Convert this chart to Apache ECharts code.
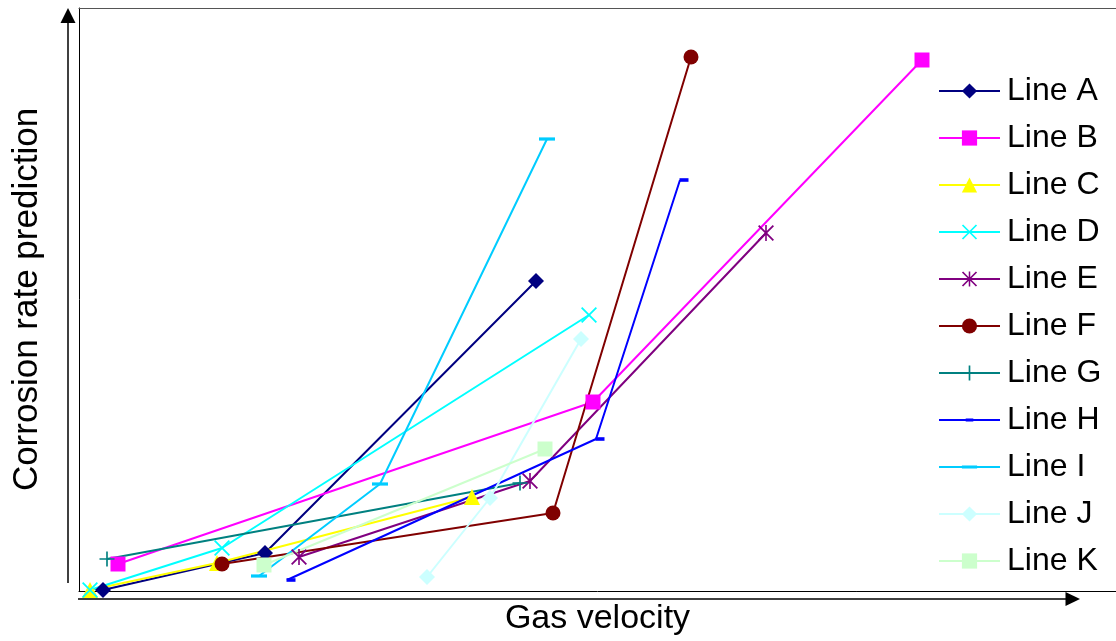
<!DOCTYPE html>
<html>
<head>
<meta charset="utf-8">
<script src="https://cdn.jsdelivr.net/npm/echarts@6/dist/echarts.min.js"></script>
<style>
html,body{margin:0;padding:0;background:#fff;}
#chart{width:1116px;height:641px;}
</style>
</head>
<body>
<div id="chart"></div>
<script>
// Values (x: gas velocity, y: corrosion rate, arbitrary units)
var seriesNames = ['Line A','Line B','Line C','Line D','Line E','Line F','Line G','Line H','Line I','Line J','Line K'];
var lineA = [[24,1],[186,38],[457,310]];
var lineB = [[39,27],[514,189],[843,531]];
var lineC = [[11,1],[138,28],[393,94]];
var lineD = [[11,1],[143,43],[510,276]];
var lineE = [[220,34],[451,110],[687,358]];
var lineF = [[143,27],[474,78],[612,534]];
var lineG = [[28,32],[441,108]];
var lineH = [[208,11],[517,152],[601,411]];
var lineI = [[180,15],[301,107],[468,452]];
var lineJ = [[348,14],[411,93],[502,252]];
var lineK = [[185,26],[466,142]];
var allData = [lineA,lineB,lineC,lineD,lineE,lineF,lineG,lineH,lineI,lineJ,lineK];

var X_PATH = 'path://M0,0.8L0.8,0L10,9.2L9.2,10Z M9.2,0L10,0.8L0.8,10L0,9.2Z';
var STAR_PATH = 'path://M0,0.8L0.8,0L10,9.2L9.2,10Z M9.2,0L10,0.8L0.8,10L0,9.2Z M4.5,0H5.5V10H4.5Z';
var PLUS_PATH = 'path://M4.45,0H5.55V10H4.45Z M0,4.45H10V5.55H0Z';
var H_DASH = 'path://M0,0M5,8H15V12H5ZM20,20';
var I_DASH = 'path://M0,0M0,8H20V12H0ZM20,20';

var styles = [
  {color:'#000080', symbol:'diamond', size:16},
  {color:'#FF00FF', symbol:'rect', size:15},
  {color:'#FFFF00', symbol:'triangle', size:16},
  {color:'#00FFFF', symbol:X_PATH, size:16},
  {color:'#800080', symbol:STAR_PATH, size:16},
  {color:'#800000', symbol:'circle', size:15},
  {color:'#008080', symbol:PLUS_PATH, size:15},
  {color:'#0000FF', symbol:H_DASH, size:18, offset:[4,0]},
  {color:'#00CCFF', symbol:I_DASH, size:16},
  {color:'#CCFFFF', symbol:'diamond', size:16},
  {color:'#CCFFCC', symbol:'rect', size:15}
];

var FONT = "'Liberation Sans', Arial, Helvetica, sans-serif";

var series = seriesNames.map(function(name, i){
  var st = styles[i];
  return {
    name: name,
    type: 'line',
    xAxisIndex: 0,
    yAxisIndex: 0,
    data: allData[i],
    symbol: st.symbol,
    symbolSize: st.size,
    symbolOffset: st.offset || [0,0],
    showAllSymbol: true,
    clip: false,
    animation: false,
    lineStyle: {color: st.color, width: 2},
    itemStyle: {color: st.color, opacity: 1},
    emphasis: {disabled: true}
  };
});

var hidden = {axisTick: {show: false}, axisLabel: {show: false}, splitLine: {show: false}};

var chart = echarts.init(document.getElementById('chart'), null, {renderer:'canvas'});
chart.setOption({
  animation: false,
  backgroundColor: '#ffffff',
  grid: {left: 79, top: 8, right: 0, bottom: 50, show: false},
  xAxis: [
    Object.assign({
      type: 'value', min: 0, max: 1037, position: 'bottom',
      name: 'Gas velocity', nameLocation: 'middle', nameGap: 11,
      nameTextStyle: {fontSize: 34, color: '#000', fontFamily: FONT},
      axisLine: {show: true, onZero: false, lineStyle: {color: '#000', width: 1}}
    }, hidden),
    Object.assign({
      type: 'value', min: 0, max: 1037, position: 'top',
      axisLine: {show: true, onZero: false, lineStyle: {color: '#555', width: 1.2}}
    }, hidden)
  ],
  yAxis: Object.assign({
    type: 'value', min: 0, max: 583,
    name: 'Corrosion rate prediction', nameLocation: 'middle', nameGap: 34,
    nameTextStyle: {fontSize: 35, color: '#000', fontFamily: FONT},
    axisLine: {show: true, onZero: false, lineStyle: {color: '#000', width: 1}}
  }, hidden),
  legend: {
    orient: 'vertical',
    left: 938, top: 75,
    itemWidth: 61, itemHeight: 19, itemGap: 15,
    padding: 0,
    data: seriesNames,
    textStyle: {fontSize: 32, lineHeight: 32, color: '#000', fontFamily: FONT, padding: [0,0,0,2]},
    selectedMode: false
  },
  graphic: [
    {type:'line', silent:true, shape:{x1:68, y1:583, x2:68, y2:20}, style:{stroke:'#000', lineWidth:1.5}},
    {type:'polygon', silent:true, shape:{points:[[68,8],[60.5,23],[75.5,23]]}, style:{fill:'#000'}},
    {type:'line', silent:true, shape:{x1:78, y1:599, x2:1068, y2:599}, style:{stroke:'#000', lineWidth:1.5}},
    {type:'polygon', silent:true, shape:{points:[[1080,599],[1065.5,592],[1065.5,606]]}, style:{fill:'#000'}}
  ],
  series: series
});
</script>
</body>
</html>
